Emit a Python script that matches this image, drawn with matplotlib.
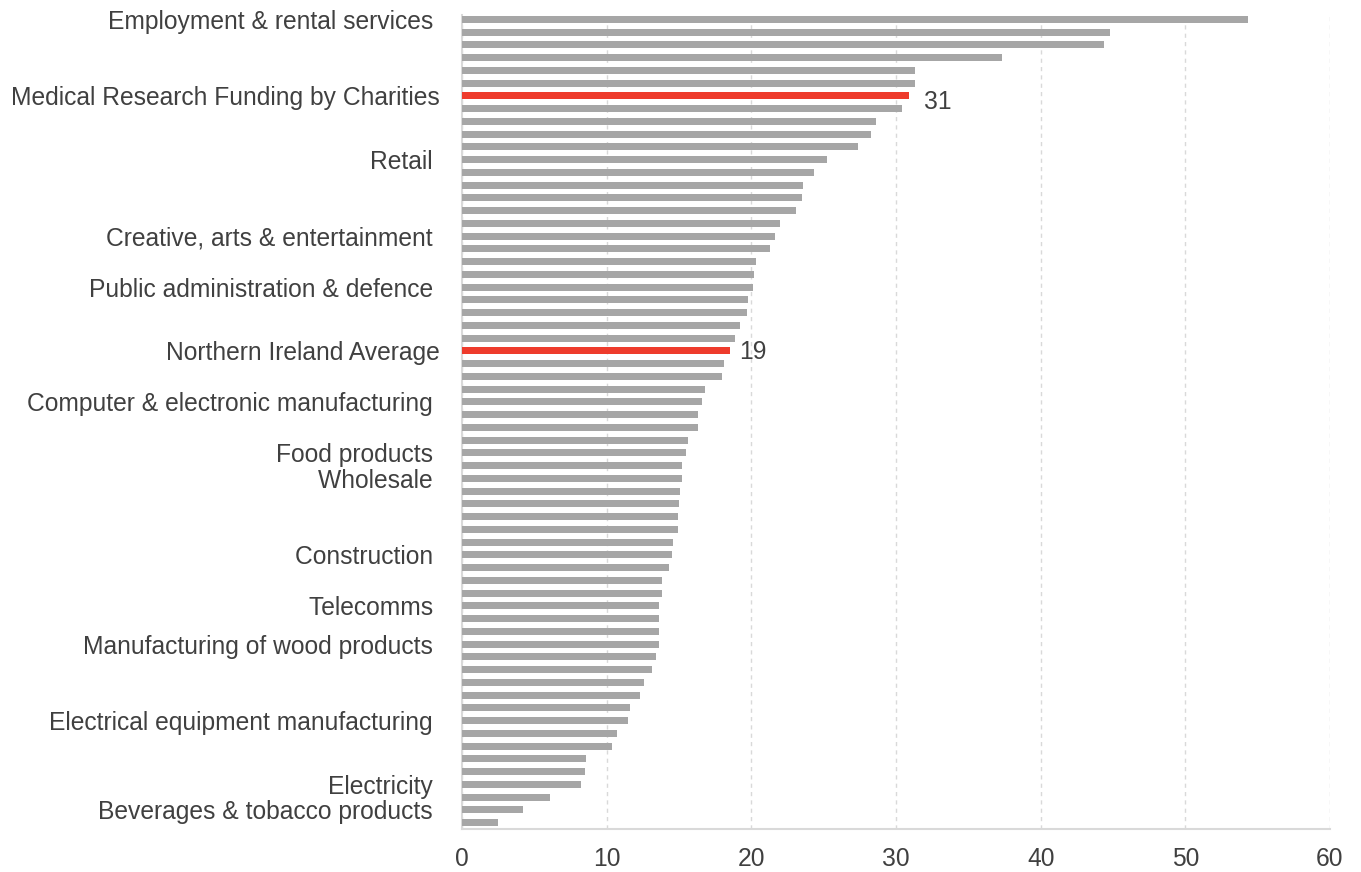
import numpy as np
import matplotlib
matplotlib.use('Agg')
import matplotlib.pyplot as plt

plt.rcParams['font.family'] = ['Liberation Sans', 'DejaVu Sans']

# Bar values, top to bottom
values = [54.3, 44.8, 44.4, 37.3, 31.3, 31.3, 30.9, 30.4, 28.6, 28.3,
          27.4, 25.2, 24.3, 23.6, 23.5, 23.1, 22.0, 21.6, 21.3, 20.3,
          20.2, 20.1, 19.8, 19.7, 19.2, 18.9, 18.5, 18.1, 18.0, 16.8,
          16.6, 16.3, 16.3, 15.6, 15.5, 15.2, 15.2, 15.1, 15.0, 14.9,
          14.9, 14.6, 14.5, 14.3, 13.8, 13.8, 13.6, 13.6, 13.6, 13.6,
          13.4, 13.1, 12.6, 12.3, 11.6, 11.5, 10.7, 10.4, 8.6, 8.5,
          8.2, 6.1, 4.2, 2.5]

# Only some bars carry a label; the rest stay blank
labelled = {
    0: 'Employment & rental services ',
    6: 'Medical Research Funding by Charities',
    11: 'Retail ',
    17: 'Creative, arts & entertainment ',
    21: 'Public administration & defence ',
    26: 'Northern Ireland Average',
    30: 'Computer & electronic manufacturing ',
    34: 'Food products ',
    36: 'Wholesale ',
    42: 'Construction ',
    46: 'Telecomms ',
    49: 'Manufacturing of wood products ',
    55: 'Electrical equipment manufacturing ',
    60: 'Electricity ',
    62: 'Beverages & tobacco products ',
}
labels = [labelled.get(i, '') for i in range(len(values))]

highlight = [6, 26]          # red bars
highlight_text = ['31', '19']

grey = '#A6A6A6'
red = '#EE3B2C'
text_col = '#404040'
fs = 17.7

colors = [red if i in highlight else grey for i in range(len(values))]
y = np.arange(len(values))

fig = plt.figure(figsize=(13.61, 8.72), dpi=100)
ax = fig.add_axes([0.3395, 0.0493, 0.6377, 0.9335])

ax.barh(y, values, height=0.55, color=colors, zorder=3)

# value labels next to the red bars
for idx, txt, off in zip(highlight, highlight_text, [(11, -4), (7, -1)]):
    ax.annotate(txt, (values[idx], idx), xytext=off, textcoords='offset points',
                va='center', ha='left', fontsize=fs, color=text_col)

ax.set_xlim(0, 60)
ax.set_ylim(63.5, -0.35)
ax.set_xticks(np.arange(0, 61, 10))
ax.set_yticks(y)
ax.set_yticklabels(labels)

ax.tick_params(axis='both', length=0, labelsize=fs, labelcolor=text_col)
ax.tick_params(axis='x', pad=13)
ax.tick_params(axis='y', pad=16)

ax.grid(axis='x', color='#D9D9D9', linestyle=(0, (3, 3)), linewidth=1, zorder=0)
ax.grid(axis='y', visible=False)

for side in ['top', 'right']:
    ax.spines[side].set_visible(False)
for side in ['left', 'bottom']:
    ax.spines[side].set_color('#D9D9D9')
    ax.spines[side].set_linewidth(1.5)

fig.savefig('out.png', dpi=100)
